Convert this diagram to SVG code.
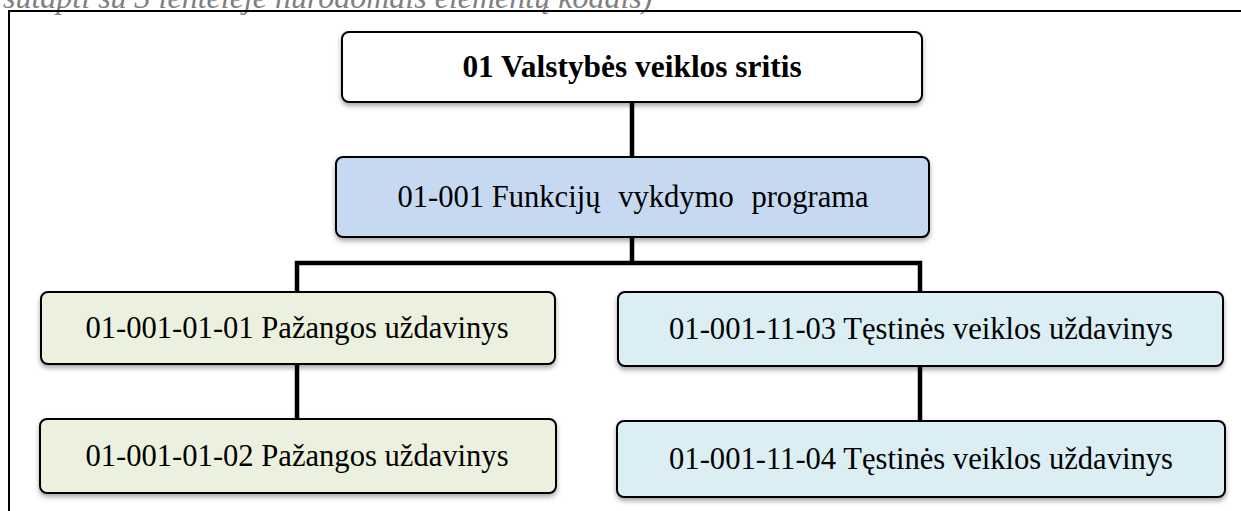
<svg xmlns="http://www.w3.org/2000/svg" width="1241" height="511" viewBox="0 0 1241 511">
<style>
.box{stroke:#000;stroke-width:2;filter:url(#sh)}
.t{font-family:"Liberation Serif","Times New Roman",serif;font-size:30.6px;fill:#000;text-anchor:middle}
.b{font-weight:bold;font-size:31.4px}
.conn{stroke:#000;stroke-width:4.5;fill:none}
</style>
<defs>
<filter id="sh" x="-5%" y="-10%" width="110%" height="130%">
<feDropShadow dx="0" dy="3" stdDeviation="2.5" flood-color="#000" flood-opacity="0.35"/>
</filter>
</defs>
<rect width="1241" height="511" fill="#fff"/>
<text x="3" y="8" font-family="'Liberation Serif','Times New Roman',serif" font-style="italic" font-size="32" fill="#808080">sutapti su 3 lentelėje nurodomais elementų kodais)</text>
<path d="M9 511 V11 H1241" stroke="#000" stroke-width="2" fill="none"/>
<g id="connectors">
<path class="conn" d="M632 102 V157"/>
<path class="conn" d="M632 237 V263"/>
<path class="conn" d="M297 292 V263 H920 V292"/>
<path class="conn" d="M297 364 V419"/>
<path class="conn" d="M920 366 V421"/>
</g>
<g id="n1">
<rect class="box" x="342" y="32" width="580" height="70" rx="7" fill="#fff"/>
<text class="t b" x="632" y="77">01 Valstybės veiklos sritis</text>
</g>
<g id="n2">
<rect class="box" x="336" y="157" width="593" height="80" rx="7" fill="#C6D9F1"/>
<text class="t" x="633" y="207">01-001 Funkcijų<tspan dx="10"> vykdymo</tspan><tspan dx="10"> programa</tspan></text>
</g>
<g id="n3">
<rect class="box" x="41" y="292" width="514" height="72" rx="7" fill="#EBF1DE"/>
<text class="t" x="297" y="338">01-001-01-01 Pažangos uždavinys</text>
</g>
<g id="n4">
<rect class="box" x="40" y="419" width="516" height="74" rx="7" fill="#EBF1DE"/>
<text class="t" x="297" y="466">01-001-01-02 Pažangos uždavinys</text>
</g>
<g id="n5">
<rect class="box" x="618" y="292" width="605" height="74" rx="7" fill="#DBEEF4"/>
<text class="t" x="921" y="339">01-001-11-03 Tęstinės veiklos uždavinys</text>
</g>
<g id="n6">
<rect class="box" x="617" y="421" width="608" height="76" rx="7" fill="#DBEEF4"/>
<text class="t" x="921" y="469">01-001-11-04 Tęstinės veiklos uždavinys</text>
</g>
</svg>
